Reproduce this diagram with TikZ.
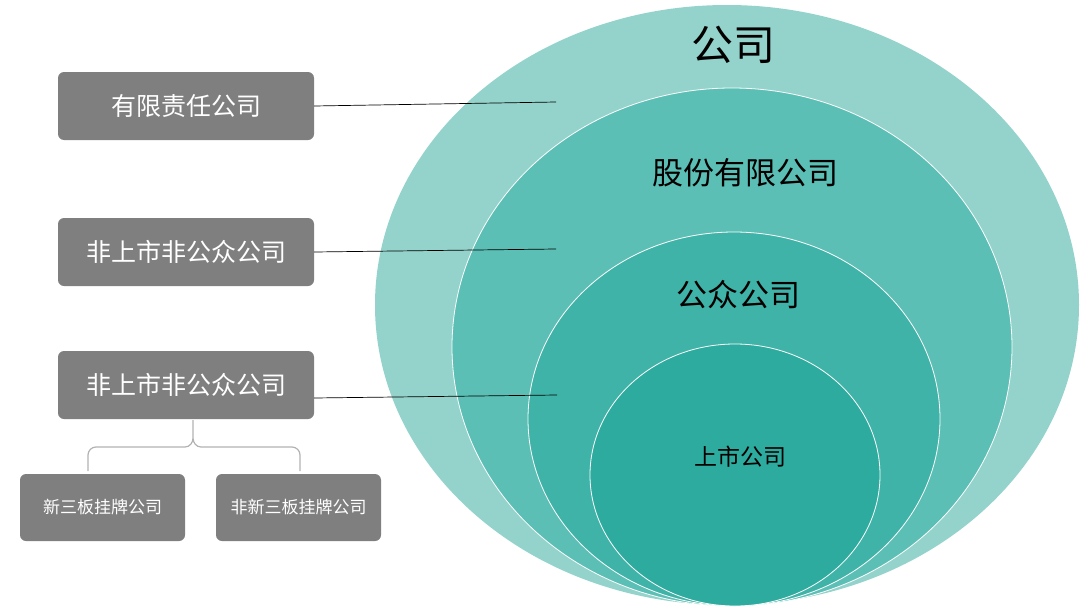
\documentclass[tikz,border=0pt]{standalone}
\usepackage{fontspec}
\setmainfont{Noto Sans CJK SC}
\begin{document}
\begin{tikzpicture}[x=1pt,y=-1pt,
 gbox/.style={fill=gray!98!black,draw=none,rounded corners=6pt,text=white,inner sep=0pt},
 ell/.style={draw=white,line width=0.8pt},
 conn/.style={draw=black,line width=0.7pt}]
\useasboundingbox (0,0) rectangle (1080,608);
\definecolor{c1}{HTML}{93D3CB}\definecolor{c2}{HTML}{5BBFB5}
\definecolor{c3}{HTML}{40B3A8}\definecolor{c4}{HTML}{2DAB9F}
\definecolor{gb}{HTML}{7F7F7F}
\fill[c1] (727,305) ellipse [x radius=352,y radius=300];
\path[ell,fill=c2] (732,347) ellipse [x radius=280,y radius=259];
\path[ell,fill=c3] (734,419) ellipse [x radius=206,y radius=187];
\path[ell,fill=c4] (735,475) ellipse [x radius=145,y radius=131];
\node (t1) at (733,45) {\fontsize{42}{44}\selectfont 公司};
\node (t2) at (745,173) {\fontsize{31}{34}\selectfont 股份有限公司};
\node (t3) at (738,295) {\fontsize{31}{34}\selectfont 公众公司};
\node (t4) at (740,457) {\fontsize{23}{26}\selectfont 上市公司};
\node[gbox,fill=gb,minimum width=256pt,minimum height=68pt] (b1) at (186,106) {\fontsize{25}{28}\selectfont 有限责任公司};
\node[gbox,fill=gb,minimum width=256pt,minimum height=68pt] (b2) at (186,252) {\fontsize{25}{28}\selectfont 非上市非公众公司};
\node[gbox,fill=gb,minimum width=256pt,minimum height=68pt] (b3) at (186,385) {\fontsize{25}{28}\selectfont 非上市非公众公司};
\node[gbox,fill=gb,minimum width=165pt,minimum height=67pt] (s1) at (102.5,507.5) {\fontsize{17}{20}\selectfont 新三板挂牌公司};
\node[gbox,fill=gb,minimum width=165pt,minimum height=67pt] (s2) at (298.5,507.5) {\fontsize{17}{20}\selectfont 非新三板挂牌公司};
\coordinate (e1) at (556,102);\coordinate (e2) at (556,249);\coordinate (e3) at (557,395);
\draw[conn] (b1.east) -- (e1);
\draw[conn] (b2.east) -- (e2);
\draw[conn] (b3.east) ++(0,13) -- (e3);
\draw[gray!60,line width=1.2pt] (88,471) -- (88,455) to[out=90,in=180] (96,447) -- (185,447) to[out=0,in=-90] (193,438) -- (193,420)
 (193,438) to[out=-90,in=180] (201,447) -- (292,447) to[out=0,in=90] (300,455) -- (300,471);
\end{tikzpicture}
\end{document}
